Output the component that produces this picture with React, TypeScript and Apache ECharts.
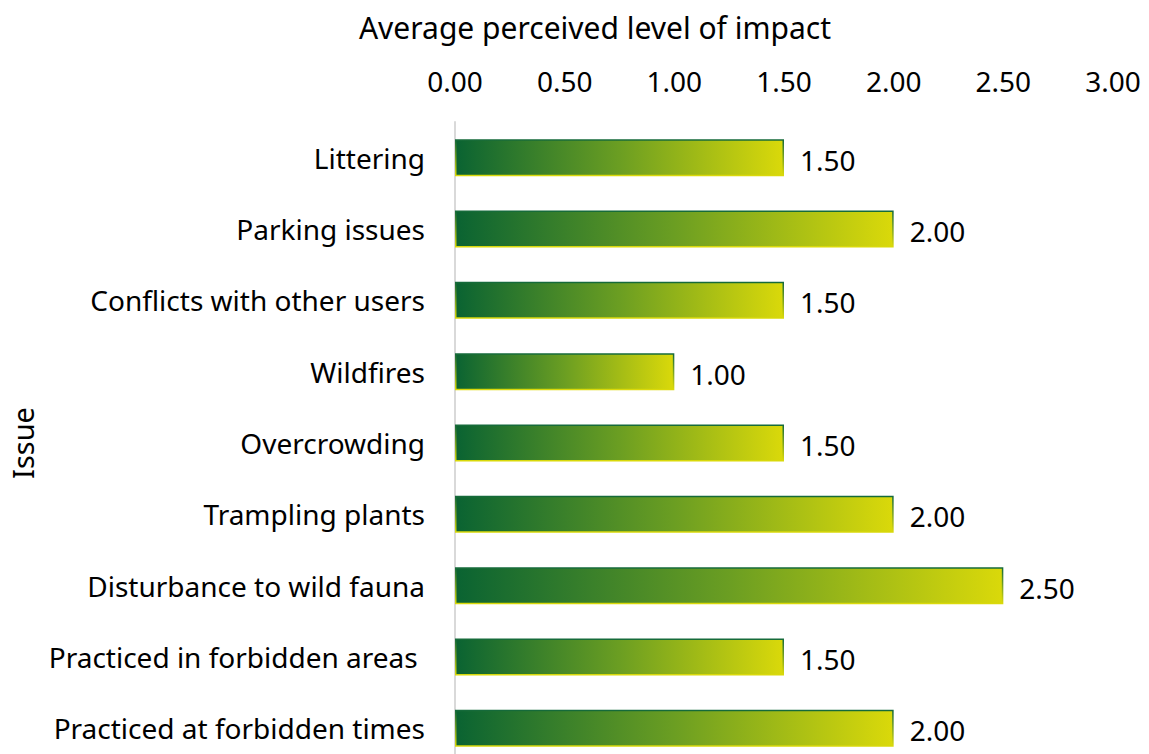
import React, { useEffect, useRef } from "react";
import * as echarts from "echarts";

const categories = [
  "Littering",
  "Parking issues",
  "Conflicts with other users",
  "Wildfires",
  "Overcrowding",
  "Trampling plants",
  "Disturbance to wild fauna",
  "Practiced in forbidden areas ",
  "Practiced at forbidden times",
];
const values = [1.5, 2.0, 1.5, 1.0, 1.5, 2.0, 2.5, 1.5, 2.0];

const FONT = "'Noto Sans', 'Open Sans', sans-serif";

export default function App() {
  const ref = useRef<HTMLDivElement>(null);
  useEffect(() => {
    if (!ref.current) return;
    const chart = echarts.init(ref.current, undefined, { renderer: "svg" });
    chart.setOption({
      animation: false,
      backgroundColor: "#ffffff",
      title: {
        text: "Average perceived level of impact",
        left: 590,
        top: 7,
        textAlign: "center",
        textStyle: { fontFamily: FONT, fontSize: 30, fontWeight: "normal", color: "#000" },
      },
      grid: { left: 455, right: 36, top: 122, bottom: 0, containLabel: false },
      xAxis: {
        type: "value",
        position: "top",
        min: 0,
        max: 3,
        interval: 0.5,
        axisLine: { show: false },
        axisTick: { show: false },
        splitLine: { show: false },
        axisLabel: {
          margin: 27,
          fontFamily: FONT,
          fontSize: 28,
          color: "#000",
          formatter: (v: number) => v.toFixed(2),
        },
      },
      yAxis: {
        type: "category",
        data: categories,
        inverse: true,
        axisLine: { show: true, lineStyle: { color: "#d9d9d9", width: 2 } },
        axisTick: { show: false },
        axisLabel: { margin: 30, fontFamily: FONT, fontSize: 28, color: "#000" },
        name: "Issue",
        nameLocation: "middle",
        nameGap: 418,
        nameRotate: 90,
        nameTextStyle: { fontFamily: FONT, fontSize: 29, color: "#000" },
      },
      series: [
        {
          type: "bar",
          data: values,
          barWidth: 37,
          itemStyle: {
            color: new echarts.graphic.LinearGradient(0, 0, 1, 0, [
              { offset: 0, color: "#0a6332" },
              { offset: 0.5, color: "#6b9e22" },
              { offset: 1, color: "#dad90a" },
            ]),
            borderColor: new echarts.graphic.LinearGradient(0, 0, 0, 1, [
              { offset: 0, color: "#156a3a" },
              { offset: 1, color: "#dad90a" },
            ]),
            borderWidth: 1.5,
          },
          label: {
            show: true,
            position: "right",
            distance: 16,
            fontFamily: FONT,
            fontSize: 28,
            color: "#000",
            offset: [0, 2],
            formatter: (p: any) => Number(p.value).toFixed(2),
          },
        },
      ],
    });
    return () => chart.dispose();
  }, []);
  return (
    <div
      ref={ref}
      style={{ position: "fixed", left: 0, top: 0, width: 1149, height: 764 }}
    />
  );
}
